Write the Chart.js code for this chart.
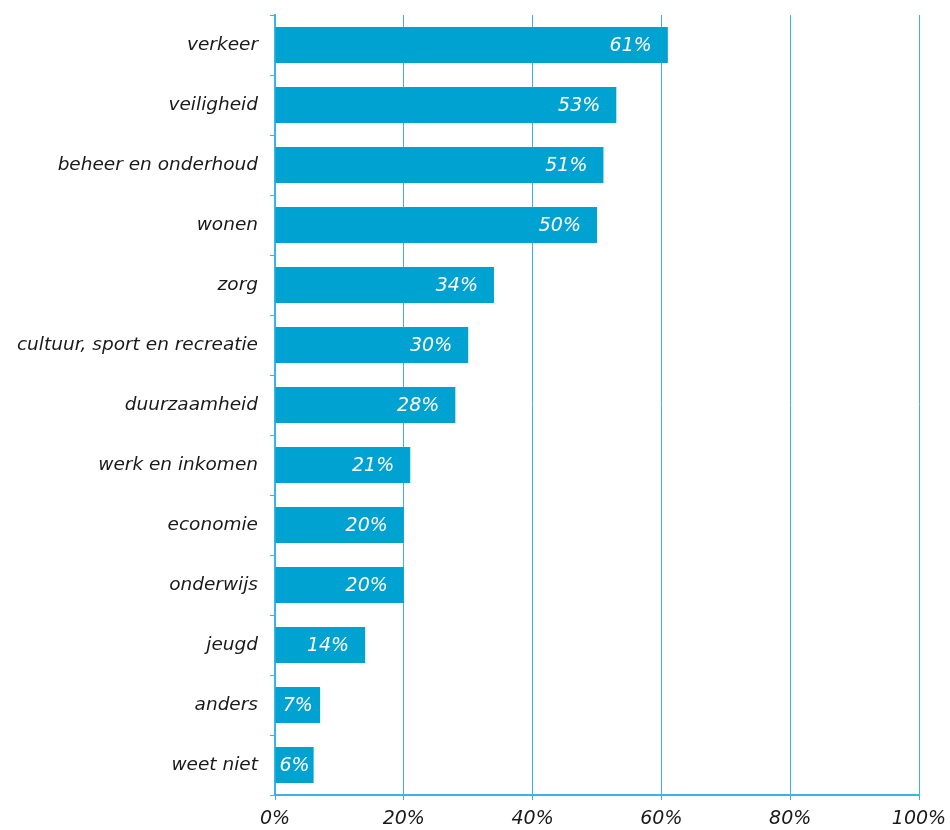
<!DOCTYPE html>
<html>
<head>
<meta charset="utf-8">
<script src="https://cdn.jsdelivr.net/npm/chart.js@4"></script>
<style>
html,body{margin:0;padding:0;background:#fff;}
#wrap{width:950px;height:830px;}
</style>
</head>
<body>
<div id="wrap"><canvas id="c" width="950" height="830"></canvas></div>
<script>
const categories = ["verkeer","veiligheid","beheer en onderhoud","wonen","zorg","cultuur, sport en recreatie","duurzaamheid","werk en inkomen","economie","onderwijs","jeugd","anders","weet niet"];
const values = [61,53,51,50,34,30,28,21,20,20,14,7,6];
const xTicks = [0,20,40,60,80,100];

const BAR = '#00a2d1';
const LINE = '#3cb4e0';
const FONT = '"DejaVu Sans", Verdana, sans-serif';

const labelPlugin = {
  id: 'barLabels',
  afterDatasetsDraw(chart) {
    const ctx = chart.ctx;
    const meta = chart.getDatasetMeta(0);
    ctx.save();
    ctx.font = 'italic 19px ' + FONT;
    ctx.fillStyle = '#ffffff';
    ctx.textBaseline = 'middle';
    meta.data.forEach((bar, i) => {
      const txt = values[i] + '%';
      const w = ctx.measureText(txt).width;
      const start = bar.base, end = bar.x;
      let right = end - 16;
      if (right - w < start + 10) {
        ctx.textAlign = 'center';
        ctx.fillText(txt, (start + end) / 2, bar.y + 1);
      } else {
        ctx.textAlign = 'right';
        ctx.fillText(txt, right, bar.y + 1);
      }
    });
    ctx.restore();
  }
};

new Chart(document.getElementById('c'), {
  type: 'bar',
  data: {
    labels: categories,
    datasets: [{
      data: values,
      backgroundColor: BAR,
      borderWidth: 0,
      categoryPercentage: 0.6,
      barPercentage: 1.0
    }]
  },
  options: {
    indexAxis: 'y',
    responsive: false,
    animation: false,
    layout: { padding: { top: 15, right: 31, left: 0, bottom: 0 } },
    plugins: { legend: { display: false }, tooltip: { enabled: false } },
    scales: {
      x: {
        min: 0, max: 100,
        afterBuildTicks: s => { s.ticks = xTicks.map(v => ({ value: v })); },
        afterFit: s => { s.height = 35; s.paddingLeft = 0; s.paddingRight = 0; },
        grid: { color: LINE, lineWidth: 1, tickLength: 5, drawTicks: true },
        border: { color: LINE, width: 2 },
        ticks: {
          color: '#1a1a1a', padding: 8, maxRotation: 0,
          font: { family: FONT, size: 19, style: 'italic' },
          callback: v => v + '%'
        }
      },
      y: {
        afterFit: s => { s.width = 275; s.paddingTop = 0; s.paddingBottom = 0; },
        grid: { display: true, drawOnChartArea: false, color: LINE, tickLength: 5, offset: true },
        border: { color: LINE, width: 2 },
        ticks: {
          color: '#1a1a1a', padding: 12,
          font: { family: FONT, size: 18.5, style: 'italic' }
        }
      }
    }
  },
  plugins: [labelPlugin]
});
</script>
</body>
</html>
